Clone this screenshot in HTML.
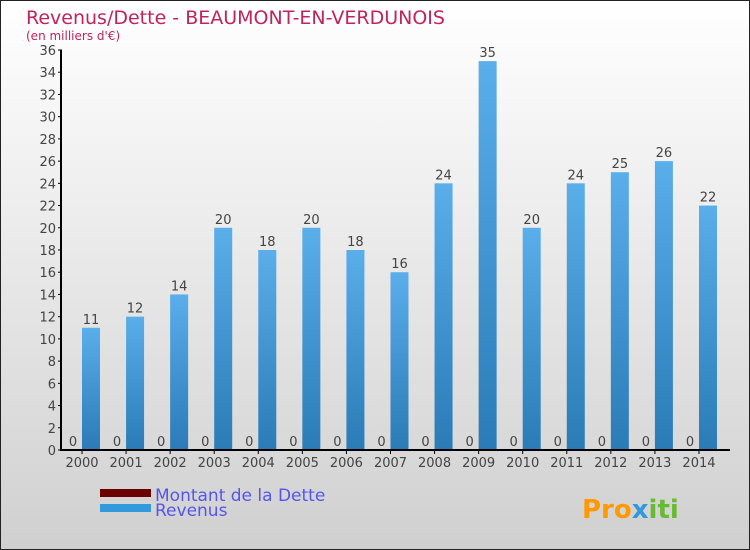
<!DOCTYPE html>
<html><head><meta charset="utf-8"><style>
body{margin:0}
svg{display:block;font-family:"DejaVu Sans","Liberation Sans",sans-serif}
</style></head><body>
<svg id="c" width="750" height="550">
<defs>
<linearGradient id="bg" x1="0" y1="0" x2="0" y2="1"><stop offset="0" stop-color="#ffffff"/><stop offset="1" stop-color="#d0d0d0"/></linearGradient>
<linearGradient id="bar" x1="0" y1="0" x2="0" y2="1"><stop offset="0" stop-color="#5aaeea"/><stop offset="1" stop-color="#2a7bb6"/></linearGradient>
</defs>
<rect x="0.5" y="0.5" width="749" height="549" fill="url(#bg)" stroke="#222"/>
<text x="26" y="24" font-size="19" fill="#c0245c">Revenus/Dette - BEAUMONT-EN-VERDUNOIS</text>
<text x="26" y="40" font-size="12" fill="#c0245c">(en milliers d'€)</text>
<g id="plot"></g>
<rect x="100" y="489" width="51" height="8" fill="#6b0000"/>
<text x="155" y="501" font-size="17" fill="#5555ee">Montant de la Dette</text>
<rect x="100" y="504" width="51" height="8" fill="#3399dd"/>
<text x="155" y="516" font-size="17" fill="#5555ee">Revenus</text>
<text x="582" y="518" font-size="26" font-weight="bold" fill="#ff9900">Pro<tspan fill="#3399dd">x</tspan><tspan fill="#66bb33">iti</tspan></text>
</svg>
<script>
const years=["2000","2001","2002","2003","2004","2005","2006","2007","2008","2009","2010","2011","2012","2013","2014"];
const revenus=[11,12,14,20,18,20,18,16,24,35,20,24,25,26,22];
const dette=[0,0,0,0,0,0,0,0,0,0,0,0,0,0,0];
const yTicks=[0,2,4,6,8,10,12,14,16,18,20,22,24,26,28,30,32,34,36];
const NS="http://www.w3.org/2000/svg";
const g=document.getElementById('plot');
const y=v=>450-v*400/36;
const x=i=>82+i*44.07;
function mk(t,a,txt){const e=document.createElementNS(NS,t);for(const k in a)e.setAttribute(k,a[k]);if(txt!==undefined)e.textContent=txt;g.appendChild(e);return e;}
yTicks.forEach(t=>{
 const l=mk('line',{x1:58,x2:62,y1:y(t),y2:y(t),stroke:'#000'});
 
 
 const tx=mk('text',{x:56,y:y(t)+5,'font-size':13,fill:'#444','text-anchor':'end'},t);
 
 
});
years.forEach((yr,i)=>{
 const cx=x(i);
 const d=mk('rect',{x:cx-18,y:y(dette[i])-1,width:18,height:Math.max(1,450-y(dette[i])+1),fill:'#7a1010'});
 
 
 const dl=mk('text',{x:cx-9,y:y(dette[i])-4,'font-size':13,fill:'#444','text-anchor':'middle'},dette[i]);
 
 
 const r=mk('rect',{x:cx,y:y(revenus[i]),width:18,height:450-y(revenus[i]),fill:'url(#bar)'});
 
 
 const rl=mk('text',{x:cx+9,y:y(revenus[i])-4,'font-size':13,fill:'#444','text-anchor':'middle'},revenus[i]);
 
 
 const tk=mk('line',{x1:cx,x2:cx,y1:450,y2:454,stroke:'#000'});
 
 
 const xl=mk('text',{x:cx,y:467,'font-size':13,fill:'#444','text-anchor':'middle'},yr);
 
 
});
const ya=mk('line',{x1:61,x2:61,y1:50,y2:450,stroke:'#000','stroke-width':2});


const xa=mk('line',{x1:60,x2:730,y1:450,y2:450,stroke:'#000','stroke-width':2});


</script>
</body></html>
